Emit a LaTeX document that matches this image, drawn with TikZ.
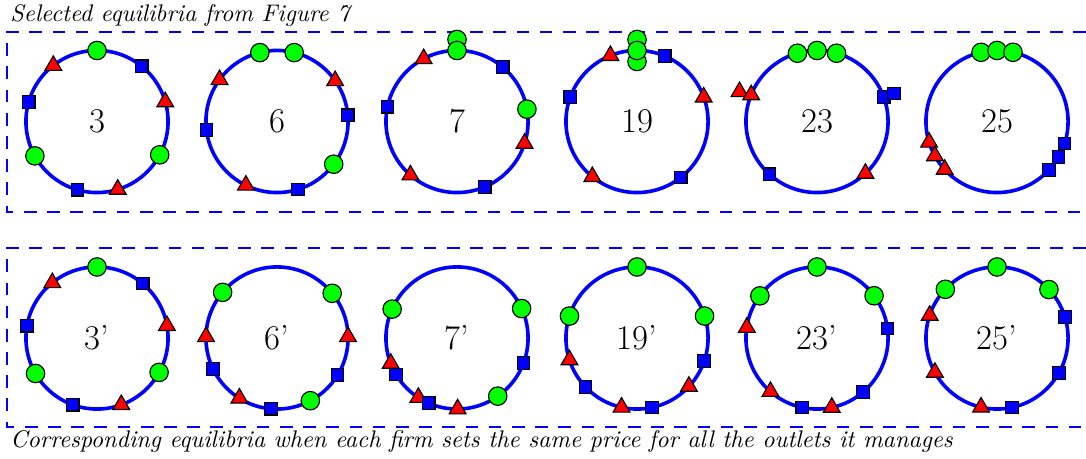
\documentclass[tikz,border=0pt]{standalone}
\usepackage{tikz}
\usetikzlibrary{shapes.geometric, calc}

\begin{document}
\begin{tikzpicture}[
  x=0.444pt, y=0.444pt,
  ring/.style={draw=blue, line width=1.6pt, circle, minimum size=63.1pt, inner sep=0pt, font=\fontsize{15.4}{18}\selectfont},
  firmA/.style={draw, line width=0.5pt, circle, fill=green, minimum size=8.2pt, inner sep=0pt},
  firmB/.style={draw, line width=0.5pt, rectangle, fill=blue, minimum size=5.6pt, inner sep=0pt},
  firmC/.style={draw, line width=0.5pt, regular polygon, regular polygon sides=3, fill=red, minimum size=8.6pt, inner sep=0pt},
  frame/.style={draw=blue, dash pattern=on 5.6pt off 4.7pt, line width=0.6pt},
  caption/.style={font=\fontsize{10.67}{13}\selectfont\itshape, anchor=base west, inner sep=0pt}
]
\useasboundingbox (0,0) rectangle (1086,459);

% ----- Cadres et legendes -----
\draw[frame] (1086,427) -| (7,247) -- (1086,247);
\draw[frame] (1086,211) -| (7,32) -- (1086,32);
\node[caption] (top) at (10,437) {Selected equilibria from Figure 7};
\node[caption] (bot) at (10,11) {Corresponding equilibria when each firm sets the same price for all the outlets it manages};

% ----- Ligne du haut (y = 337.5) -----
\node[ring] (r3)  at (97,337.5)  {3};
\node[ring] (r6)  at (277,337.5) {6};
\node[ring] (r7)  at (457,337.5) {7};
\node[ring] (r19) at (637,337.5) {19};
\node[ring] (r23) at (817,337.5) {23};
\node[ring] (r25) at (997,337.5) {25};

\foreach \s/\a/\d [count=\k] in {firmA/90/71, firmA/-28/71, firmA/-151/71,
    firmB/51/71, firmB/-106/71, firmB/164/71, firmC/16/71, firmC/-73/71, firmC/128/71}
  \node[\s] (r3-\k) at ([shift={(\a:\d)}]r3.center) {};
\foreach \s/\a/\d [count=\k] in {firmA/104/71, firmA/76/71, firmA/-37/71,
    firmB/5/71, firmB/-73/71, firmB/187/71, firmC/35/71, firmC/-116/71, firmC/144/71}
  \node[\s] (r6-\k) at ([shift={(\a:\d)}]r6.center) {};
\foreach \s/\a/\d [count=\k] in {firmA/90/82, firmA/90/71, firmA/10/71,
    firmB/50/71, firmB/-67/71, firmB/168/71, firmC/-18/71, firmC/-131/71, firmC/118/71}
  \node[\s] (r7-\k) at ([shift={(\a:\d)}]r7.center) {};
\foreach \s/\a/\d [count=\k] in {firmA/90/82, firmA/90/60, firmA/90/71,
    firmB/67/71, firmB/-52/71, firmB/160/71, firmC/20/71, firmC/-129/71, firmC/112/71}
  \node[\s] (r19-\k) at ([shift={(\a:\d)}]r19.center) {};
\foreach \s/\a/\d [count=\k] in {firmA/106/71, firmA/74/71, firmA/90/71,
    firmB/20/71, firmB/20/82, firmB/-132/71, firmC/159/83, firmC/158/71, firmC/-47/71}
  \node[\s] (r23-\k) at ([shift={(\a:\d)}]r23.center) {};
\foreach \s/\a/\d [count=\k] in {firmA/103/71, firmA/90/71, firmA/77/71,
    firmB/-18/71, firmB/-30/71, firmB/-43/71, firmC/197/71, firmC/209/71, firmC/222.5/71}
  \node[\s] (r25-\k) at ([shift={(\a:\d)}]r25.center) {};

% ----- Ligne du bas (y = 121) -----
\node[ring] (r3p)  at (97,121)  {3'};
\node[ring] (r6p)  at (277,121) {6'};
\node[ring] (r7p)  at (457,121) {7'};
\node[ring] (r19p) at (637,121) {19'};
\node[ring] (r23p) at (817,121) {23'};
\node[ring] (r25p) at (997,121) {25'};

\foreach \s/\a/\d [count=\k] in {firmA/90/71, firmA/-29/71, firmA/-150/71,
    firmB/50/71, firmB/-110/71, firmB/170/71, firmC/10/71, firmC/-70/71, firmC/129/71}
  \node[\s] (r3p-\k) at ([shift={(\a:\d)}]r3p.center) {};
\foreach \s/\a/\d [count=\k] in {firmA/140/71, firmA/39/71, firmA/-62/71,
    firmB/-31.5/71, firmB/-95/71, firmB/-154/71, firmC/1/71, firmC/-122/71, firmC/179/71}
  \node[\s] (r6p-\k) at ([shift={(\a:\d)}]r6p.center) {};
\foreach \s/\a/\d [count=\k] in {firmA/156/71, firmA/24.5/71, firmA/-55/71,
    firmC/-89.5/71, firmC/-123/71, firmC/-159/71, firmB/-20.6/71, firmB/-113.5/71, firmB/-149/71}
  \node[\s] (r7p-\k) at ([shift={(\a:\d)}]r7p.center) {};
\foreach \s/\a/\d [count=\k] in {firmA/90/71, firmA/162/71, firmA/18/71,
    firmB/-19/71, firmB/-78/71, firmB/-136.5/71, firmC/-43/71, firmC/-102.6/71, firmC/-162/71}
  \node[\s] (r19p-\k) at ([shift={(\a:\d)}]r19p.center) {};
\foreach \s/\a/\d [count=\k] in {firmA/90/71, firmA/143.6/71, firmA/36.5/71,
    firmB/7.7/71, firmB/-49.5/71, firmB/-102/71, firmC/-78/71, firmC/-131/71, firmC/171.5/71}
  \node[\s] (r23p-\k) at ([shift={(\a:\d)}]r23p.center) {};
\foreach \s/\a/\d [count=\k] in {firmA/90/71, firmA/136.7/71, firmA/43/71,
    firmB/17/71, firmB/-29.5/71, firmB/-78/71, firmC/-103/71, firmC/-151/71, firmC/161.5/71}
  \node[\s] (r25p-\k) at ([shift={(\a:\d)}]r25p.center) {};

\end{tikzpicture}
\end{document}
